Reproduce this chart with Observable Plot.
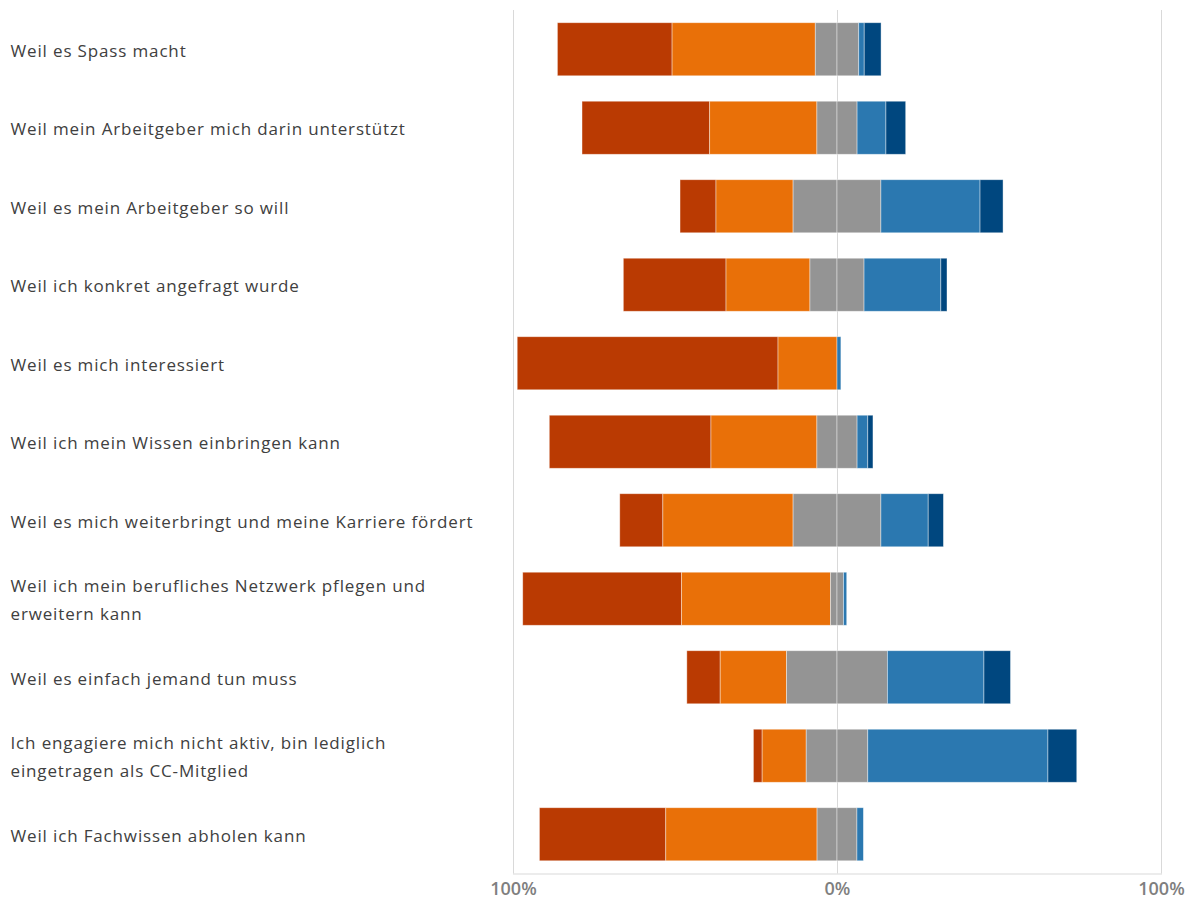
<!DOCTYPE html>
<html>
<head>
<meta charset="utf-8">
<script src="https://cdn.jsdelivr.net/npm/d3@7"></script>
<script src="https://cdn.jsdelivr.net/npm/@observablehq/plot@0.6"></script>
<style>
  html, body { margin: 0; padding: 0; background: #ffffff; }
  #chart svg { display: block; }
  #chart svg g.row-labels text { letter-spacing: 0.85px; }
</style>
</head>
<body>
<div id="chart"></div>
<script>
// Reasons for engagement, answers in percent of respondents
const categories = [
  "Weil es Spass macht",
  "Weil mein Arbeitgeber mich darin unterstützt",
  "Weil es mein Arbeitgeber so will",
  "Weil ich konkret angefragt wurde",
  "Weil es mich interessiert",
  "Weil ich mein Wissen einbringen kann",
  "Weil es mich weiterbringt und meine Karriere fördert",
  "Weil ich mein berufliches Netzwerk pflegen und erweitern kann",
  "Weil es einfach jemand tun muss",
  "Ich engagiere mich nicht aktiv, bin lediglich eingetragen als CC-Mitglied",
  "Weil ich Fachwissen abholen kann"
];

// Row labels with their line breaks
const labels = [
  "Weil es Spass macht",
  "Weil mein Arbeitgeber mich darin unterstützt",
  "Weil es mein Arbeitgeber so will",
  "Weil ich konkret angefragt wurde",
  "Weil es mich interessiert",
  "Weil ich mein Wissen einbringen kann",
  "Weil es mich weiterbringt und meine Karriere fördert",
  "Weil ich mein berufliches Netzwerk pflegen und\nerweitern kann",
  "Weil es einfach jemand tun muss",
  "Ich engagiere mich nicht aktiv, bin lediglich\neingetragen als CC-Mitglied",
  "Weil ich Fachwissen abholen kann"
];

// Answer shares per category (percent)
const trifftVollZu      = [35.4, 39.4, 11.1, 31.7, 80.5, 49.9, 13.3, 49.0, 10.3,  2.7, 39.0];
const trifftEherZu      = [44.2, 33.1, 23.8, 25.9, 18.2, 32.7, 40.2, 46.0, 20.5, 13.6, 46.7];
const teilsTeils        = [13.4, 12.4, 27.1, 16.7,  0.0, 12.4, 27.1,  4.0, 31.1, 19.0, 12.3];
const trifftEherNichtZu = [ 1.7,  8.9, 30.6, 23.7,  1.2,  3.3, 14.6,  1.0, 29.8, 55.6,  2.0];
const trifftNichtZu     = [ 5.2,  6.1,  7.1,  1.9,  0.0,  1.6,  4.7,  0.0,  8.2,  8.9,  0.0];

const tickValues = [-100, 0, 100];

// Diverging layout: agreement to the left, neutral split around zero, disagreement to the right
const keys = ["voll", "eher", "teilsL", "teilsR", "eherNicht", "nicht"];
const colors = ["#ba3a02", "#e97008", "#949494", "#949494", "#2b78b0", "#00477f"];
const stackOrder = ["teilsL", "teilsR", "eher", "eherNicht", "voll", "nicht"];

const rows = categories.flatMap((category, i) => [
  {category, key: "voll", value: -trifftVollZu[i]},
  {category, key: "eher", value: -trifftEherZu[i]},
  {category, key: "teilsL", value: -teilsTeils[i] / 2},
  {category, key: "teilsR", value: teilsTeils[i] / 2},
  {category, key: "eherNicht", value: trifftEherNichtZu[i]},
  {category, key: "nicht", value: trifftNichtZu[i]}
]);

const chart = Plot.plot({
  width: 1203,
  height: 897,
  marginLeft: 513,
  marginRight: 42,
  marginTop: 10,
  marginBottom: 23.5,
  style: {fontFamily: "'Open Sans', sans-serif", background: "#ffffff"},
  x: {domain: [-100, 100], axis: null, label: null},
  y: {domain: categories, axis: null, round: false, paddingInner: 0.324, paddingOuter: 0.162},
  color: {domain: keys, range: colors},
  marks: [
    Plot.ruleX(tickValues, {stroke: "#d9d9d9", strokeWidth: 1}),
    Plot.frame({anchor: "bottom", stroke: "#d9d9d9"}),
    Plot.barX(rows, {
      x: "value",
      y: "category",
      fill: "key",
      order: stackOrder,
      stroke: "#ffffff",
      strokeOpacity: 0.5,
      strokeWidth: 0.8
    }),
    Plot.axisX({
      ticks: tickValues,
      tickSize: 0,
      tickPadding: 8,
      label: null,
      tickFormat: d => `${Math.abs(d)}%`,
      fontSize: 18,
      fontWeight: 600,
      color: "#7f7f7f"
    }),
    Plot.text(categories, {
      y: d => d,
      text: (d, i) => labels[i],
      frameAnchor: "left",
      dx: -503,
      dy: -2,
      textAnchor: "start",
      lineAnchor: "middle",
      lineHeight: 1.66,
      fontSize: 17,
      fill: "#404040",
      className: "row-labels"
    })
  ]
});

document.getElementById("chart").append(chart);
</script>
</body>
</html>
